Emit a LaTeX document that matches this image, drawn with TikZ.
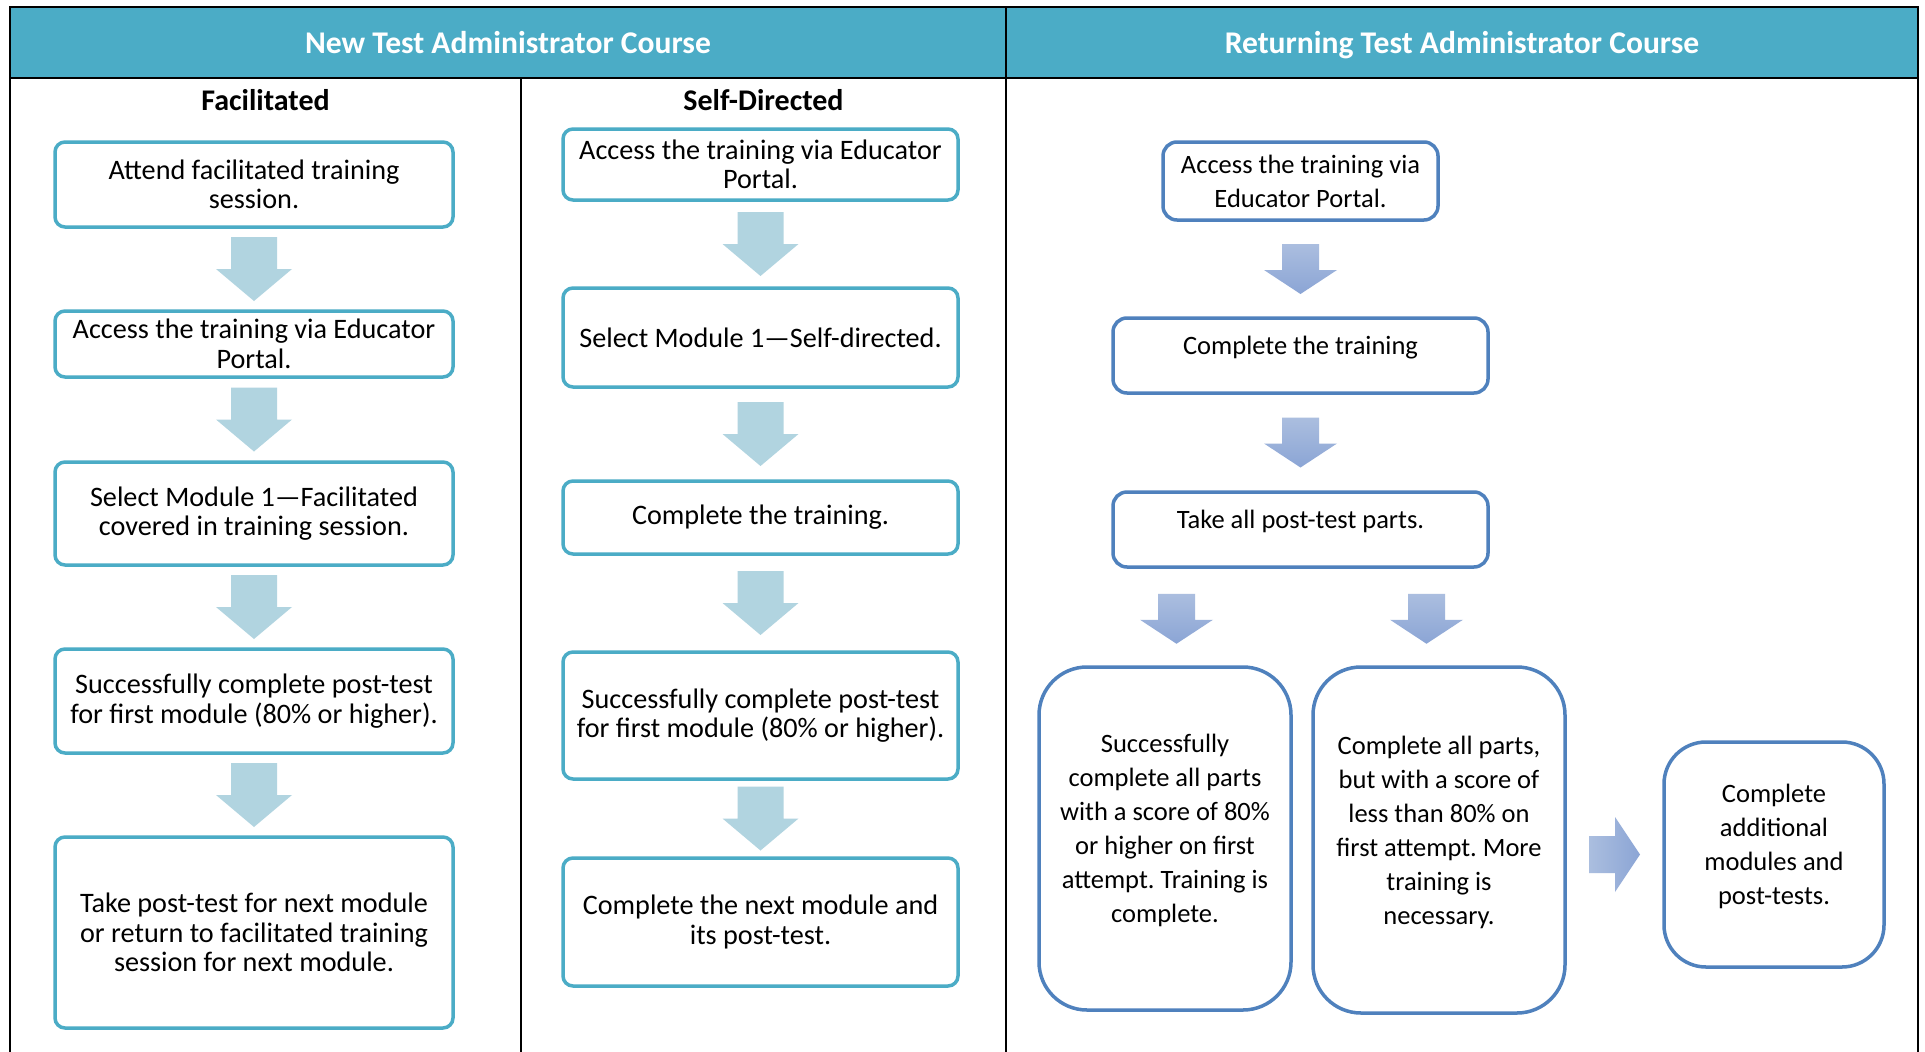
\documentclass[tikz,border=0pt]{standalone}
\usepackage{fontspec}
\setmainfont{Carlito}
\usetikzlibrary{calc}
\frenchspacing
\definecolor{hdrfill}{HTML}{4BACC6}
\definecolor{tealb}{HTML}{4BACC6}
\definecolor{lblue}{HTML}{B1D4E0}
\definecolor{rblue}{HTML}{4F81BD}
\definecolor{artop}{HTML}{ABBEDF}
\definecolor{arbot}{HTML}{8BA5D5}
\newcommand\dpfix{\rule[-20pt]{0pt}{20pt}}
\newcommand\darrL[1]{\fill[lblue,shift={(#1)}] (-23,-32) -- (23,-32) -- (23,0) -- (38,0) -- (0,32) -- (-38,0) -- (-23,0) -- cycle;}
\newcommand\darrR[1]{\shade[top color=artop,bottom color=arbot,shift={(#1)}] (-18.5,-25) -- (18.5,-25) -- (18.5,1) -- (36.5,1) -- (0,25) -- (-36.5,1) -- (-18.5,1) -- cycle;}
\newcommand\rarrR[1]{\shade[left color=artop,right color=arbot,shift={(#1)}] (-25.5,-18.5) -- (0.5,-18.5) -- (0.5,-37.5) -- (25.5,0) -- (0.5,37.5) -- (0.5,18.5) -- (-25.5,18.5) -- cycle;}
\begin{document}
\begin{tikzpicture}[x=1pt,y=-1pt,
  fbox/.style={draw=tealb,line width=3.5pt,rounded corners=10pt,fill=white,align=center,
    inner sep=0pt,minimum width=398pt,font=\fontsize{28.2}{29.5}\selectfont},
  sbox/.style={fbox,minimum width=395pt},
  rbox/.style={draw=rblue,line width=3.5pt,rounded corners=14pt,fill=white,align=center,
    inner sep=0pt,font=\fontsize{26.5}{34}\selectfont},
  bigbox/.style={rbox,rounded corners=48pt},
  hdr/.style={text=white,font=\bfseries\fontsize{31.6}{34}\selectfont,inner sep=0pt,anchor=base},
  sub/.style={text=black,font=\bfseries\fontsize{30}{34}\selectfont,inner sep=0pt,anchor=base},
  grid/.style={line width=2.5pt,black}]
\useasboundingbox[fill=white] (0,0) rectangle (1925,1052);
% header band
\fill[hdrfill] (10,7) rectangle (1918,78);
\draw[grid] (10,1052) -- (10,7) -- (1918,7) -- (1918,1052);
\draw[grid] (10,78) -- (1918,78);
\draw[grid] (1006,7) -- (1006,1052);
\draw[grid] (521,78) -- (521,1052);
\node[hdr] (H1) at (508,53) {New Test Administrator Course};
\node[hdr] (H2) at (1462,53) {Returning Test Administrator Course};
\node[sub] (T1) at (265.5,110) {Facilitated};
\node[sub] (T2) at (763.5,110) {Self-Directed};
% Facilitated column
\node[fbox,minimum height=85pt] (F1) at (254,184.5) {Attend facilitated training\\session.};
\node[fbox,minimum height=66pt] (F2) at (254,344) {Access the training via Educator\\Portal.};
\node[fbox,minimum height=103pt] (F3) at (254,513.5) {Select Module 1—Facilitated\\covered in training session.};
\node[fbox,minimum height=104pt] (F4) at (254,701) {Successfully complete post-test\\for first module (80\% or higher).};
\node[fbox,minimum height=191pt] (F5) at (254,932.5) {Take post-test for next module\\or return to facilitated training\\session for next module.};
% Self-directed column
\node[sbox,minimum height=71pt] (S1) at (760.5,164.5) {Access the training via Educator\\Portal.};
\node[sbox,minimum height=99pt] (S2) at (760.5,337.5) {Select Module 1—Self-directed.};
\node[sbox,minimum height=73pt] (S3) at (760.5,517.5) {Complete the training.};
\node[sbox,minimum height=127pt] (S4) at (760.5,715.5) {Successfully complete post-test\\for first module (80\% or higher).};
\node[sbox,minimum height=128pt] (S5) at (760.5,922) {Complete the next module and\\its post-test.};
% Returning column
\node[rbox,minimum width=275pt,minimum height=78pt] (R1) at (1300.5,181) {Access the training via\\Educator Portal.};
\node[rbox,minimum width=375pt,minimum height=75pt] (R2) at (1300.5,355.5) {Complete the training\dpfix};
\node[rbox,minimum width=375pt,minimum height=75pt] (R3) at (1300.5,529.5) {Take all post-test parts.\dpfix};
\node[bigbox,minimum width=252pt,minimum height=343pt] (R4) at (1165,838.5) {Successfully\\complete all parts\\with a score of 80\%\\or higher on first\\attempt. Training is\\complete.\dpfix};
\node[bigbox,minimum width=252pt,minimum height=346pt] (R5) at (1439,840) {Complete all parts,\\but with a score of\\less than 80\% on\\first attempt. More\\training is\\necessary.\dpfix};
\node[rbox,rounded corners=42pt,minimum width=220pt,minimum height=225pt] (R6) at (1774,854.5) {Complete\\additional\\modules and\\post-tests.\dpfix};
% arrow positions
\coordinate (fa1) at ($(F1.south)!0.5!(F2.north)$);
\coordinate (fa2) at ($(F2.south)!0.5!(F3.north)$);
\coordinate (fa3) at ($(F3.south)!0.5!(F4.north)$);
\coordinate (fa4) at ($(F4.south)!0.5!(F5.north)$);
\coordinate (sa1) at ($(S1.south)!0.5!(S2.north)$);
\coordinate (sa2) at ($(S2.south)!0.5!(S3.north)$);
\coordinate (sa3) at ($(S3.south)!0.5!(S4.north)$);
\coordinate (sa4) at ($(S4.south)!0.5!(S5.north)$);
\coordinate (ra1) at ($(R1.south)!0.5!(R2.north)$);
\coordinate (ra2) at ($(R2.south)!0.5!(R3.north)$);
\coordinate (ra3) at ($(R3.south)+(-124,50)$);
\coordinate (ra4) at ($(R3.south)+(126,50)$);
\coordinate (ra5) at ($(R5.east |- R6.west)!0.5!(R6.west)$);
\darrL{fa1}\darrL{fa2}\darrL{fa3}\darrL{fa4}
\darrL{sa1}\darrL{sa2}\darrL{sa3}\darrL{sa4}
\darrR{ra1}\darrR{ra2}\darrR{ra3}\darrR{ra4}
\rarrR{ra5}
\end{tikzpicture}
\end{document}
